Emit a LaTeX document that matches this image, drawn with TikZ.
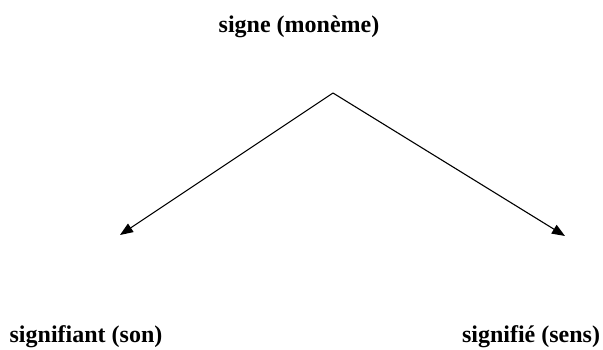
\documentclass[tikz,border=0pt]{standalone}
\usepackage{fontspec}
\setmainfont{Liberation Serif}
\usetikzlibrary{arrows.meta}
\tikzset{
  lbl/.style={font=\fontsize{24}{28}\selectfont\bfseries, inner sep=0pt},
  conn/.style={line width=1.1pt, -{Triangle[length=13pt,width=10pt]}}
}
\begin{document}
\begin{tikzpicture}[x=1pt,y=-1pt]
\useasboundingbox (0,0) rectangle (603,350);
\node[lbl, anchor=base] (signe) at (299,33) {signe (monème)};
\node[lbl, anchor=base] (sa) at (86,342) {signifiant (son)};
\node[lbl, anchor=base] (se) at (531,342) {signifié (sens)};
\coordinate (apex) at (333,93);
\coordinate (lt) at (120,235);
\coordinate (rt) at (565,236);
\draw[conn] (apex) -- (lt);
\draw[conn] (apex) -- (rt);
\end{tikzpicture}
\end{document}
